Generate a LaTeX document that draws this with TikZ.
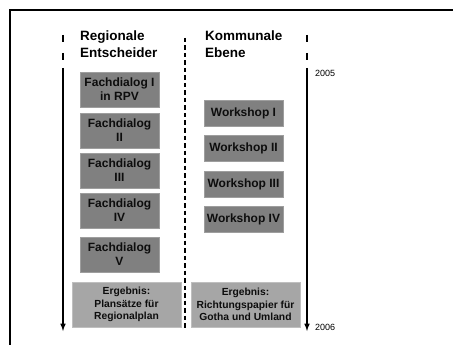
\documentclass[tikz,border=0pt]{standalone}
\usepackage{fontspec}
\setmainfont{Liberation Sans}
\usetikzlibrary{arrows}

\begin{document}
\begin{tikzpicture}[x=1pt,y=-1pt]
	\tikzstyle{every node}+=[inner sep=0pt]
	\tikzstyle{stage}=[draw=black!38, fill=black!50, line width=0.8pt, minimum width=79pt, align=center, text=black!95, font=\bfseries\fontsize{12}{14}\selectfont]
	\tikzstyle{result}=[stage, draw=black!25, fill=black!35, minimum width=109pt, minimum height=45pt, font=\bfseries\fontsize{10.3}{12.5}\selectfont]
	\tikzstyle{head}=[anchor=north west, align=left, font=\bfseries\fontsize{13.5}{17}\selectfont, text=black]
	\tikzstyle{year}=[anchor=west, font=\fontsize{9}{10}\selectfont]
	\tikzstyle{tick}=[line width=1.6pt]
	\useasboundingbox (0,0) rectangle (453,345);
	\draw [line width=1.4pt] (10,345) -- (10,10) -- (453,10);
	% headings
	\node [head] (regio) at (80,31) {Regionale\\Entscheider};
	\node [head] (kommu) at (205,31) {Kommunale\\Ebene};
	% Fachdialoge
	\node [stage, minimum height=35pt] (fd1) at (119.5,89.5) {Fachdialog I\\in RPV};
	\node [stage, minimum height=35pt] (fd2) at (119.5,130.5) {Fachdialog\\II};
	\node [stage, minimum height=35pt] (fd3) at (119.5,170.5) {Fachdialog\\III};
	\node [stage, minimum height=35pt] (fd4) at (119.5,210.5) {Fachdialog\\IV};
	\node [stage, minimum height=35pt] (fd5) at (119.5,254.5) {Fachdialog\\V};
	\node [result] (erg1) at (126.5,304.5) {Ergebnis:\\Plans\"atze f\"ur\\Regionalplan};
	% Workshops
	\node [stage, minimum height=26pt] (ws1) at (243.5,113) {Workshop I};
	\node [stage, minimum height=26pt] (ws2) at (243.5,148) {Workshop II};
	\node [stage, minimum height=26pt] (ws3) at (243.5,184) {Workshop III};
	\node [stage, minimum height=26pt] (ws4) at (243.5,219) {Workshop IV};
	\node [result] (erg2) at (245.5,304.5) {Ergebnis:\\Richtungspapier f\"ur\\Gotha und Umland};
	% Zeitachsen
	\coordinate (l0) at (63,68);
	\coordinate (l1) at (63,331);
	\coordinate (r0) at (307,68);
	\coordinate (r1) at (307,331);
	\coordinate (m0) at (185,38);
	\coordinate (m1) at (185,330);
	\draw [tick] (63,35) -- (63,42);
	\draw [tick] (63,53) -- (63,60);
	\draw [tick] (307,35) -- (307,42);
	\draw [tick] (307,53) -- (307,60);
	\draw [line width=1.5pt, -latex] (l0) -- (l1);
	\draw [line width=1.5pt, -latex] (r0) -- (r1);
	\draw [line width=1.4pt, dash pattern=on 4.5pt off 3pt] (m0) -- (m1);
	\node [year] (y05) at (315,73) {2005};
	\node [year] (y06) at (315,327) {2006};
\end{tikzpicture}
\end{document}
